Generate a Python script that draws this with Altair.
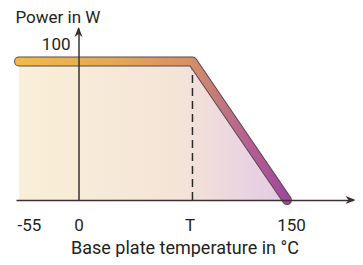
import altair as alt
import pandas as pd

# ---- data ----
temps = [-55, 82, 150]          # derating curve: x (°C)
power = [100, 100, 0]           # derating curve: y (W)
T_value = 82                    # schematic position of "T"
tick_values = [-55, 0, T_value, 150]
tick_labels = ["-55", "0", "T", "150"]
y_tick_values = [100]
y_tick_labels = ["100"]
x_domain = [-57.8, 0, 197.5]    # piecewise (schematic) axis
y_domain = [0, 124.2]

curve = pd.DataFrame({"temp": temps, "power": power})
dash = pd.DataFrame({"temp": [T_value], "power": [0], "p1": [100]})
arrow_x = pd.DataFrame({"temp": [x_domain[-1]], "power": [0]})
arrow_y = pd.DataFrame({"temp": [0], "power": [y_domain[-1]]})

# label expressions
x_expr = "''"
for v, l in reversed(list(zip(tick_values, tick_labels))):
    x_expr = f"datum.value == {v} ? '{l}' : {x_expr}"
y_expr = "''"
for v, l in reversed(list(zip(y_tick_values, y_tick_labels))):
    y_expr = f"datum.value == {v} ? '{l}' : {y_expr}"

FONT = "Roboto"
TXT = "#231f20"
AX = "#3a3232"

xs = alt.Scale(domain=x_domain, range=[0, 62.5, 337], nice=False, zero=False)
ys = alt.Scale(domain=y_domain, nice=False, zero=False)

x_axis = alt.Axis(
    values=tick_values, labelExpr=x_expr, grid=False, ticks=False, tickSize=0,
    domain=True, domainColor=AX, domainWidth=1.5,
    labelFont=FONT, labelFontSize=17, labelColor=TXT,
    labelBaseline="alphabetic", labelPadding=30.7,
    labelOffset={"condition": [
        {"test": "datum.value == -55", "value": 10},
        {"test": "datum.value == 150", "value": 4},
        {"test": f"datum.value == {T_value}", "value": -3},
    ], "value": 0},
    labelFlush=False, labelOverlap=False,
    title="Base plate temperature in °C", titleFont=FONT, titleFontSize=18,
    titleFontWeight="normal", titleColor=TXT, titleBaseline="alphabetic",
    titleY=53, zindex=1,
)
y_axis = alt.Axis(
    values=y_tick_values, labelExpr=y_expr, orient="left", offset=-62.5,
    grid=False, ticks=False, tickSize=0,
    domain=True, domainColor=AX, domainWidth=1.5,
    labelFont=FONT, labelFontSize=17, labelColor=TXT,
    labelPadding=8.5, labelOffset=-17, labelBaseline="middle",
    title="Power in W", titleFont=FONT, titleFontSize=17, titleFontWeight="normal",
    titleColor=TXT, titleAngle=0, titleAlign="left", titleBaseline="alphabetic",
    titleX=-63.5, titleY=-6, zindex=1,
)

X = alt.X("temp:Q", scale=xs, axis=x_axis)
Y = alt.Y("power:Q", scale=ys, axis=y_axis)

area_grad = alt.LinearGradient(
    gradient="linear", x1=0, x2=1, y1=0, y2=0,
    stops=[
        alt.GradientStop(color="#faefd7", offset=0),
        alt.GradientStop(color="#f4e4d8", offset=0.6),
        alt.GradientStop(color="#e3c9e6", offset=1),
    ],
)
line_grad = alt.LinearGradient(
    gradient="linear", x1=0, x2=1, y1=0, y2=0,
    stops=[
        alt.GradientStop(color="#eebb48", offset=0),
        alt.GradientStop(color="#e3a955", offset=0.35),
        alt.GradientStop(color="#d49068", offset=0.64),
        alt.GradientStop(color="#b8688f", offset=0.82),
        alt.GradientStop(color="#9f479e", offset=1),
    ],
)

area = alt.Chart(curve).mark_area(fill=area_grad).encode(x=X, y=Y)
rule = alt.Chart(dash).mark_rule(color="#2a2a2a", strokeWidth=1.5, strokeDash=[8, 5]).encode(
    x=X, y=Y, y2="p1:Q")
outline = alt.Chart(curve).mark_line(
    color="#5a4646", strokeWidth=10, strokeCap="round", strokeJoin="round").encode(x=X, y=Y)
line = alt.Chart(curve).mark_line(
    stroke=line_grad, strokeWidth=8, strokeCap="round", strokeJoin="round").encode(x=X, y=Y)
arr_r = alt.Chart(arrow_x).mark_point(
    shape="M0.5,0 L-1.5,-0.8 L-0.9,0 L-1.5,0.8 Z", filled=True, size=100,
    color="#3b2828", opacity=1, strokeWidth=0).encode(x=X, y=Y)
arr_u = alt.Chart(arrow_y).mark_point(
    shape="M0,-0.2 L0.8,1.8 L0,1.2 L-0.8,1.8 Z", filled=True, size=100,
    color="#3b2828", opacity=1, strokeWidth=0).encode(x=X, y=Y)

chart = alt.layer(area, rule, outline, line, arr_r, arr_u).properties(
    width=337, height=172,
    autosize=alt.AutoSizeParams(type="none"),
    padding={"left": 8, "top": 20, "right": 2, "bottom": 57},
).configure_view(stroke=None)

chart.save("out.html", embed_options={"renderer": "svg", "actions": False})
